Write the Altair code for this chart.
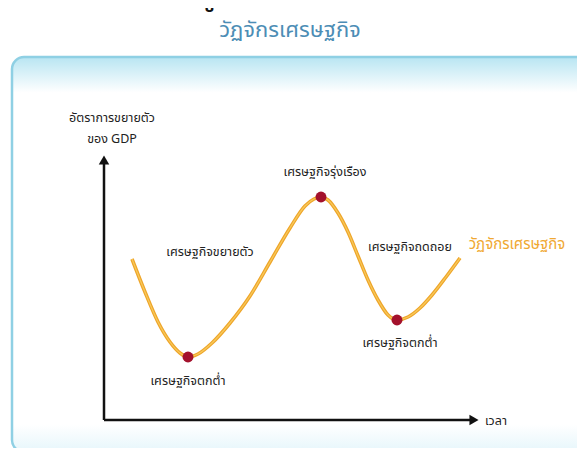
import altair as alt
import pandas as pd

# image-like coordinate system: x to the right, y downward
curve_x = [132, 145, 158, 170, 180, 188, 198, 212, 230, 250, 270, 290, 305, 314, 321,
           328, 338, 348, 358, 368, 378, 388, 397, 408, 420, 432, 446, 460]
curve_y = [259, 292, 322, 342, 353, 357, 354, 343, 323, 296, 262, 228, 206, 199, 197,
           200, 213, 232, 256, 280, 300, 315, 320, 317, 308, 295, 277, 258]

dot_x = [188, 321, 397]
dot_y = [357, 197, 320]

label_text = ["อัตราการขยายตัว", "ของ GDP", "เศรษฐกิจรุ่งเรือง", "เศรษฐกิจขยายตัว",
              "เศรษฐกิจถดถอย", "เศรษฐกิจตกต่ำ", "เศรษฐกิจตกต่ำ", "เวลา"]
label_x = [112, 112, 325, 210, 410, 188, 400, 496]
label_y = [118, 139, 172, 252, 247, 381, 343, 421]

title_text = "วัฏจักรเศรษฐกิจ"
title_x, title_y = 290, 30
curve_name = "วัฏจักรเศรษฐกิจ"
curve_name_x, curve_name_y = 517, 244
top_mark_text = "ู"
top_mark_x, top_mark_y = 216, 4

axis_origin = (104, 420)
axis_y_end = 162
axis_x_end = 472

box = pd.DataFrame({"x": [12], "x2": [600], "y": [57], "y2": [452]})

X = alt.Scale(domain=[8, 577], nice=False, zero=False)
Y = alt.Scale(domain=[8, 448], nice=False, zero=False, reverse=True)

def xe(f="x"):
    return alt.X(f"{f}:Q", scale=X, axis=None)

def ye(f="y"):
    return alt.Y(f"{f}:Q", scale=Y, axis=None)

FONT = "Noto Sans Thai, Noto Sans, DejaVu Sans, sans-serif"

box_layer = alt.Chart(box).mark_rect(
    cornerRadius=12,
    stroke="#8fd0e4",
    strokeWidth=2.5,
    fill=alt.Gradient(
        gradient="linear",
        x1=0, y1=0, x2=0, y2=1,
        stops=[alt.GradientStop(offset=0, color="#b8e5f2"),
               alt.GradientStop(offset=0.09, color="#ffffff"),
               alt.GradientStop(offset=0.93, color="#ffffff"),
               alt.GradientStop(offset=1, color="#e6f6fb")],
    ),
).encode(x=xe(), x2="x2:Q", y=ye(), y2="y2:Q")

axes_df = pd.DataFrame({
    "x": [axis_origin[0], axis_origin[0]],
    "x2": [axis_origin[0], axis_x_end],
    "y": [axis_origin[1], axis_origin[1]],
    "y2": [axis_y_end, axis_origin[1]],
})
axes_layer = alt.Chart(axes_df).mark_rule(color="#111111", strokeWidth=2.5).encode(
    x=xe(), x2="x2:Q", y=ye(), y2="y2:Q")

arrows_df = pd.DataFrame({
    "x": [axis_origin[0], axis_x_end + 2],
    "y": [axis_y_end - 2, axis_origin[1]],
    "shape": ["triangle-up", "triangle-right"],
})
arrow_layer = alt.Chart(arrows_df).mark_point(filled=True, color="#111111", size=110, opacity=1).encode(
    x=xe(), y=ye(), shape=alt.Shape("shape:N", scale=None, legend=None))

curve_df = pd.DataFrame({"x": curve_x, "y": curve_y, "o": list(range(len(curve_x)))})
curve_outer = alt.Chart(curve_df).mark_line(color="#eea52a", strokeWidth=3.6, interpolate="monotone").encode(
    x=xe(), y=ye(), order="o:Q")
curve_inner = alt.Chart(curve_df).mark_line(color="#f8c95a", strokeWidth=1.2, interpolate="monotone").encode(
    x=xe(), y=ye(), order="o:Q")

dots_df = pd.DataFrame({"x": dot_x, "y": dot_y})
dots_layer = alt.Chart(dots_df).mark_circle(color="#a3112c", size=120, opacity=1).encode(x=xe(), y=ye())

labels_df = pd.DataFrame({"t": label_text, "x": label_x, "y": label_y})
labels_layer = alt.Chart(labels_df).mark_text(
    font=FONT, fontSize=12.5, color="#222222", baseline="middle", align="center").encode(
    x=xe(), y=ye(), text="t:N")

title_df = pd.DataFrame({"t": [title_text, curve_name],
                         "x": [title_x, curve_name_x],
                         "y": [title_y, curve_name_y],
                         "c": ["#4c8db5", "#f0a832"],
                         "s": [22, 15]})
title_layer = alt.Chart(title_df).mark_text(font=FONT, baseline="middle", align="center").encode(
    x=xe(), y=ye(), text="t:N",
    color=alt.Color("c:N", scale=None, legend=None),
    size=alt.Size("s:Q", scale=None, legend=None))

top_df = pd.DataFrame({"t": [top_mark_text], "x": [top_mark_x], "y": [top_mark_y]})
top_layer = alt.Chart(top_df).mark_text(
    font=FONT, fontSize=30, color="#111111", baseline="alphabetic", align="center").encode(
    x=xe(), y=ye(), text="t:N")

chart = alt.layer(
    box_layer, axes_layer, arrow_layer, curve_outer, curve_inner, dots_layer, labels_layer,
    title_layer, top_layer
).properties(width=569, height=440, padding=0, autosize=alt.AutoSizeParams(type="none")
).configure_view(stroke=None)

chart.save("out.html", embed_options={"renderer": "svg", "actions": False})
